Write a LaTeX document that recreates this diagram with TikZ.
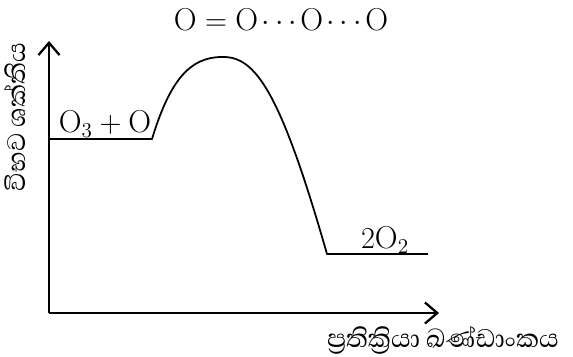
\documentclass[tikz,border=0pt]{standalone}
\usepackage{fontspec}
\newfontfamily\sinhalafont[Script=Sinhala]{Abhaya Libre}
\usetikzlibrary{arrows.meta}
\tikzset{
  axis/.style={line width=1.3pt, -{Straight Barb[length=7pt,width=12pt,line width=1.3pt]}},
  level/.style={line width=1pt},
  lbl/.style={font=\fontsize{18}{21}\selectfont, inner sep=0pt},
  slbl/.style={font=\sinhalafont\fontsize{18.5}{21}\selectfont, inner sep=0pt}
}
\begin{document}
\begin{tikzpicture}[x=0.02cm, y=-0.02cm]
    \useasboundingbox (0,0) rectangle (573,356);
    % axes
    \coordinate (o) at (49,313);
    \coordinate (ytop) at (49,41);
    \coordinate (xend) at (439,313);
    \draw[axis] (o) -- (ytop);
    \draw[axis] (o) -- (xend);
    % energy profile
    \coordinate (r0) at (49,139);
    \coordinate (r1) at (152,139);
    \coordinate (ts) at (222,57);
    \coordinate (p0) at (327,254);
    \coordinate (p1) at (428,254);
    \draw[level, line join=round] (r0) -- (r1)
        .. controls (170,80) and (190,57) .. (ts)
        .. controls (255,56) and (280,90) .. (p0) -- (p1);
    % labels
    \node[lbl] (react) at (105,124) {$\mathrm{O}_3+\mathrm{O}$};
    \node[lbl] (trans) at (281,20) {$\mathrm{O}=\mathrm{O}\mkern2mu{\cdots}\mkern2mu\mathrm{O}\mkern2mu{\cdots}\mkern2mu\mathrm{O}$};
    \node[lbl] (prod) at (385,240) {$2\mathrm{O}_2$};
    \node[slbl, rotate=90] (ylab) at (15,117) {විභව ශක්තිය};
    \node[slbl] (xlab) at (443,340) {ප්^^^^200dරතික්^^^^200dරියා ඛණ්ඩාංකය};
\end{tikzpicture}
\end{document}
